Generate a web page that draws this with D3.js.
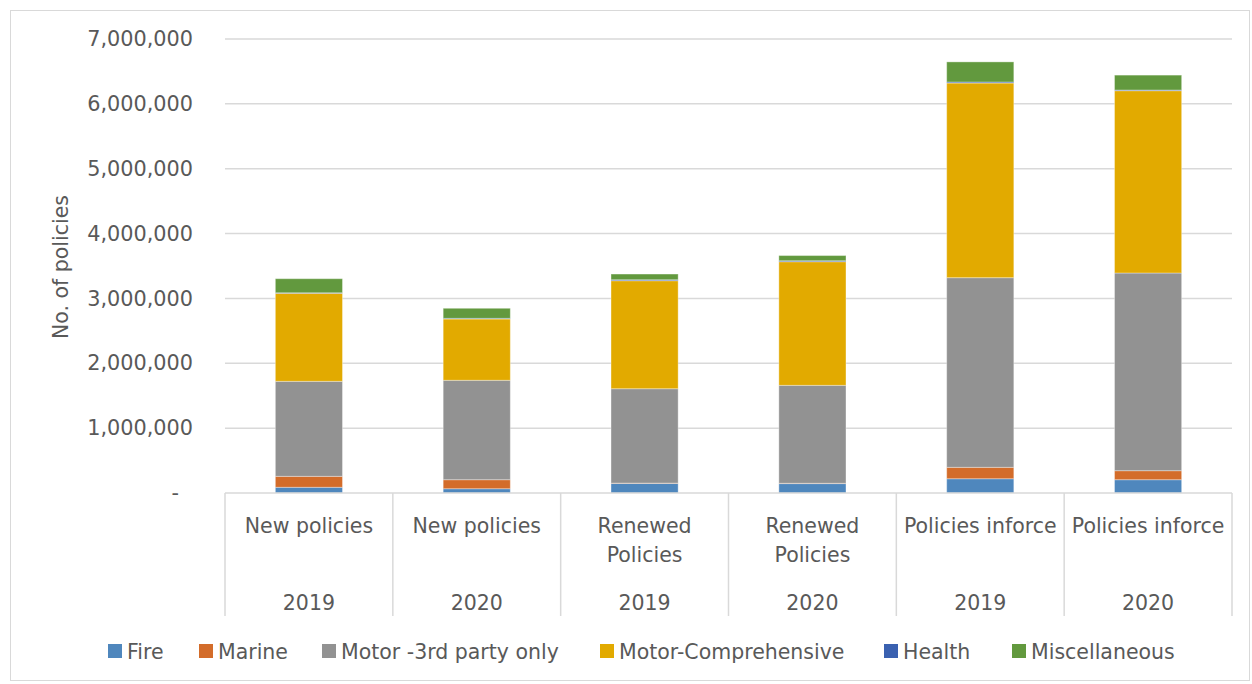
<!DOCTYPE html>
<html><head><meta charset="utf-8">
<script src="https://cdn.jsdelivr.net/npm/d3@7/dist/d3.min.js"></script>
<style>body{margin:0;background:#fff}svg{display:block;font-family:"DejaVu Sans",Verdana,sans-serif}</style>
</head><body><svg id="c" width="1252" height="684"></svg>
<script>
const categories = ["New policies|2019","New policies|2020","Renewed Policies|2019","Renewed Policies|2020","Policies inforce|2019","Policies inforce|2020"];
const catLabels = [["New policies"],["New policies"],["Renewed","Policies"],["Renewed","Policies"],["Policies inforce"],["Policies inforce"]];
const years = ["2019","2020","2019","2020","2019","2020"];
const seriesNames = ["Fire","Marine","Motor -3rd party only","Motor-Comprehensive","Health","Miscellaneous"];
const seriesColors = ["#4f87bd","#d36c2a","#929292","#e2aa00","#3a61b0","#62993e"];
const fire = [88000, 66000, 148000, 145000, 220000, 205000];
const marine = [169000, 139000, 5000, 5000, 176000, 139000];
const motor3rd = [1465000, 1533000, 1455000, 1510000, 2924000, 3048000];
const motorComp = [1357000, 945000, 1665000, 1906000, 3001000, 2811000];
const health = [8000, 10000, 15000, 15000, 16000, 10000];
const misc = [217000, 155000, 88000, 80000, 310000, 230000];
const yTicks = [0,1000000,2000000,3000000,4000000,5000000,6000000,7000000];

const seriesVals = [fire, marine, motor3rd, motorComp, health, misc];
const table = categories.map((c,i)=>{const o={cat:c}; seriesNames.forEach((s,j)=>o[s]=seriesVals[j][i]); return o;});
const stack = d3.stack().keys(seriesNames)(table);

const svg = d3.select("#c");
const text = "#595959", grid = "#d9d9d9";
svg.append("rect").attr("x",10.5).attr("y",10.5).attr("width",1239).attr("height",670).attr("fill","#fff").attr("stroke",grid).attr("stroke-width",1);

const L=225, R=1232, T=39, B=493;
const x = d3.scaleBand().domain(categories).range([L,R]).paddingInner(0).paddingOuter(0);
const y = d3.scaleLinear().domain([0,7000000]).range([B,T]);

// gridlines
svg.append("g").selectAll("line").data(yTicks.filter(d=>d>0)).join("line")
  .attr("x1",L).attr("x2",R).attr("y1",d=>y(d)).attr("y2",d=>y(d))
  .attr("stroke",grid).attr("stroke-width",1.5);

// y axis labels
const fmt = d3.format(",");
const ya = svg.append("g").attr("transform",`translate(${L},0)`)
  .call(d3.axisLeft(y).tickValues(yTicks).tickSize(0).tickPadding(32).tickFormat(d=>d===0?"-":fmt(d)));
ya.select(".domain").remove();
ya.selectAll("text").attr("font-size",20.8).attr("fill",text).attr("font-family","DejaVu Sans, Verdana, sans-serif")
  .attr("dx",d=>d===0?-14:0);

// y title
svg.append("text").attr("transform","translate(68,267) rotate(-90)").attr("text-anchor","middle")
  .attr("font-size",20.5).attr("fill",text).text("No. of policies");

// bars
const bw = x.bandwidth()*0.4;
svg.append("g").selectAll("g").data(stack).join("g").attr("fill",(d,i)=>seriesColors[i])
  .selectAll("rect").data(d=>d).join("rect")
  .attr("x",d=>x(d.data.cat)+(x.bandwidth()-bw)/2).attr("width",bw)
  .attr("y",d=>y(d[1])).attr("height",d=>y(d[0])-y(d[1]))
  .attr("stroke","#ffffff").attr("stroke-opacity",0.35).attr("stroke-width",1);

// x axis lines
svg.append("line").attr("x1",L).attr("x2",R).attr("y1",B).attr("y2",B).attr("stroke",grid).attr("stroke-width",1.5);
const bounds = categories.map(c=>x(c)).concat([R]);
svg.append("g").selectAll("line").data(bounds).join("line")
  .attr("x1",d=>d).attr("x2",d=>d).attr("y1",B).attr("y2",616).attr("stroke",grid).attr("stroke-width",1.5);

// category labels
const cl = svg.append("g").attr("fill",text).attr("font-size",20.5).attr("text-anchor","middle");
categories.forEach((c,i)=>{
  const cx = x(c)+x.bandwidth()/2;
  catLabels[i].forEach((ln,k)=>cl.append("text").attr("x",cx).attr("y",533+k*29).text(ln));
  cl.append("text").attr("x",cx).attr("y",610).text(years[i]);
});

// legend
const legX = [108,199,322,600,884,1012];
const lg = svg.append("g");
seriesNames.forEach((s,i)=>{
  lg.append("rect").attr("x",legX[i]).attr("y",644).attr("width",14).attr("height",14).attr("fill",seriesColors[i]);
  lg.append("text").attr("x",legX[i]+19).attr("y",659).attr("font-size",20.5).attr("fill",text).text(s);
});
</script></body></html>
